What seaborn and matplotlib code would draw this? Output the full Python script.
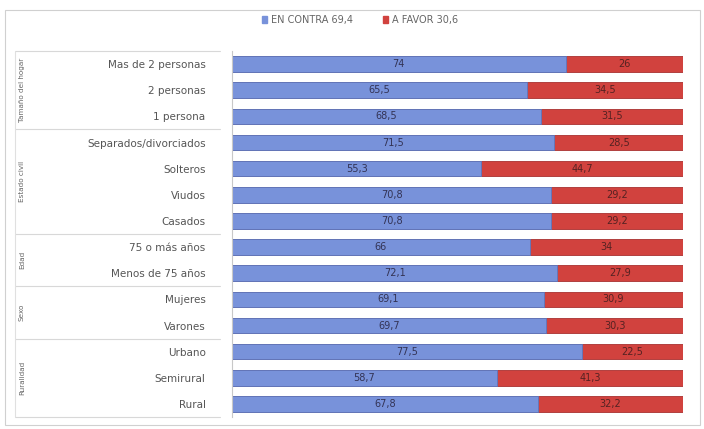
import matplotlib
matplotlib.use("Agg")
import matplotlib.pyplot as plt
import seaborn as sns
import pandas as pd
from matplotlib.patches import Rectangle, Patch
from matplotlib.lines import Line2D

categories = ["Mas de 2 personas", "2 personas", "1 persona",
              "Separados/divorciados", "Solteros", "Viudos", "Casados",
              "75 o más años", "Menos de 75 años",
              "Mujeres", "Varones",
              "Urbano", "Semirural", "Rural"]
en_contra = [74, 65.5, 68.5, 71.5, 55.3, 70.8, 70.8, 66, 72.1, 69.1, 69.7, 77.5, 58.7, 67.8]
a_favor = [26, 34.5, 31.5, 28.5, 44.7, 29.2, 29.2, 34, 27.9, 30.9, 30.3, 22.5, 41.3, 32.2]
groups = ["Tamaño del hogar", "Estado civil", "Edad", "Sexo", "Ruralidad"]
group_sizes = [3, 4, 2, 2, 3]
legend_labels = ["EN CONTRA 69,4", "A FAVOR 30,6"]

BLUE = "#7892da"
RED = "#d1423e"

sns.set_theme(style="white")
plt.rcParams['font.family'] = ['DejaVu Sans']

df = pd.DataFrame({"cat": categories,
                   "contra": en_contra,
                   "total": [c + f for c, f in zip(en_contra, a_favor)]})

fig = plt.figure(figsize=(7.04, 4.29), dpi=100)
W, H = 704, 429
ax = fig.add_axes([232 / W, 1 - 417 / H, (683 - 232) / W, (417 - 51) / H])

sns.barplot(data=df, y="cat", x="total", color=RED, orient="h", width=0.6,
            ax=ax, saturation=1, edgecolor="#a83030", linewidth=0.6)
sns.barplot(data=df, y="cat", x="contra", color=BLUE, orient="h", width=0.6,
            ax=ax, saturation=1, edgecolor="#5a78c0", linewidth=0.6)

ax.set_xlim(0, 100)
ax.set_ylim(len(categories) - 0.5, -0.5)
ax.set_xlabel("")
ax.set_ylabel("")
ax.set_xticks([])
for s in ["top", "right", "bottom"]:
    ax.spines[s].set_visible(False)
ax.spines["left"].set_color("#c8c8c8")
ax.spines["left"].set_linewidth(0.8)
ax.tick_params(axis="y", length=0, pad=19, labelsize=7.5, labelcolor="#555555")

def fmt(v):
    s = f"{v:g}"
    return s.replace(".", ",")

for i, (c, f) in enumerate(zip(en_contra, a_favor)):
    ax.text(c / 2, i, fmt(c), ha="center", va="center", fontsize=7, color="#333355")
    ax.text(c + f / 2, i, fmt(f), ha="center", va="center", fontsize=7, color="#552222")

# outer frame
fig.patches.append(Rectangle((5 / W, 1 - 425 / H), 695 / W, 415 / H,
                             transform=fig.transFigure, fill=False,
                             edgecolor="#d0d0d0", linewidth=0.8))

# group separators and labels
start = 0
ytop = 51
step = (417 - 51) / len(categories)
bounds = [ytop]
for g, n in zip(groups, group_sizes):
    y0 = ytop + start * step
    y1 = ytop + (start + n) * step
    bounds.append(y1)
    ymid = (y0 + y1) / 2
    fig.text(22 / W, 1 - ymid / H, g, rotation=90, ha="center", va="center",
             fontsize=5.2, color="#666666")
    start += n
for b in bounds:
    fig.add_artist(Line2D([15 / W, 220 / W], [1 - b / H, 1 - b / H],
                          transform=fig.transFigure, color="#d8d8d8", linewidth=0.8))
fig.add_artist(Line2D([15 / W, 15 / W], [1 - bounds[0] / H, 1 - bounds[-1] / H],
                      transform=fig.transFigure, color="#e0e0e0", linewidth=0.8))

handles = [Patch(color=BLUE), Patch(color=RED)]
fig.legend(handles, legend_labels, loc="center", bbox_to_anchor=(360 / W, 1 - 20 / H),
           ncol=2, frameon=False, fontsize=7, handlelength=0.6, handleheight=0.6,
           columnspacing=3, handletextpad=0.4, labelcolor="#666666")

fig.savefig("out.png", dpi=100)
